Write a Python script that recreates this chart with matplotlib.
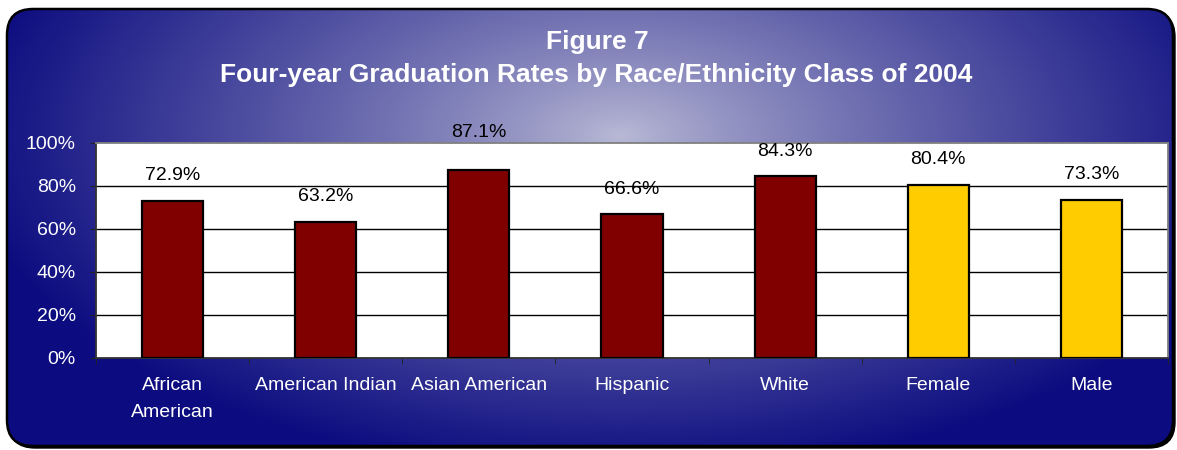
import numpy as np
import matplotlib.pyplot as plt
from matplotlib.patches import FancyBboxPatch

plt.rcParams['font.family'] = ['Liberation Sans', 'DejaVu Sans']

categories = ['African\nAmerican', 'American Indian', 'Asian American',
              'Hispanic', 'White', 'Female', 'Male']
rates = [72.9, 63.2, 87.1, 66.6, 84.3, 80.4, 73.3]
bar_colors = ['#800000'] * 5 + ['#FFCC00'] * 2
yticks = [0, 20, 40, 60, 80, 100]

W, H = 1177, 450
fig = plt.figure(figsize=(W / 100, H / 100), dpi=100)
fig.patch.set_facecolor('white')

# background panel with radial gradient
bg = fig.add_axes([0, 0, 1, 1])
bg.set_xlim(0, W)
bg.set_ylim(H, 0)
bg.axis('off')

yy, xx = np.mgrid[0:H, 0:W]
cx, cy, rx, ry = 620, 135, 660, 340
r = np.sqrt(((xx - cx) / rx) ** 2 + ((yy - cy) / ry) ** 2)
t = np.clip(r, 0, 1) ** 0.85
center = np.array([186, 186, 214]) / 255
edge = np.array([12, 12, 128]) / 255
img = center[None, None, :] * (1 - t[..., None]) + edge[None, None, :] * t[..., None]

shadow = FancyBboxPatch((9, 11), 1166, 437, boxstyle='round,pad=0,rounding_size=26',
                        fc='black', ec='black', lw=1)
bg.add_patch(shadow)
box = FancyBboxPatch((7, 9), 1166, 437, boxstyle='round,pad=0,rounding_size=26',
                     fc='none', ec='black', lw=1.8, zorder=3)
bg.add_patch(box)
im = bg.imshow(img, extent=(0, W, H, 0), zorder=2, aspect='auto')
im.set_clip_path(box)

fig.text(597 / W, 1 - 42 / H, 'Figure 7', color='white', fontsize=19,
         fontweight='bold', ha='center', va='center')
fig.text(596 / W, 1 - 75 / H, 'Four-year Graduation Rates by Race/Ethnicity Class of 2004',
         color='white', fontsize=19, fontweight='bold', ha='center', va='center')

# plot area
left, right, top, bottom = 96, 1168, 142.5, 357.5
ax = fig.add_axes([left / W, 1 - bottom / H, (right - left) / W, (bottom - top) / H])
ax.set_facecolor('white')
x = np.arange(len(categories))
ax.bar(x, rates, width=0.4, color=bar_colors, edgecolor='black', linewidth=1.6, zorder=3)
ax.set_xlim(-0.5, len(categories) - 0.5)
ax.set_ylim(0, 100)
ax.set_yticks(yticks)
ax.set_yticklabels([f'{v}%' for v in yticks])
for v in yticks[1:-1]:
    ax.axhline(v, color='black', lw=1, zorder=1)

ax.set_xticks(x)
ax.set_xticklabels(categories, linespacing=1.8)
ax.set_xticks(np.arange(-0.5, len(categories)), minor=True)
ax.tick_params(axis='x', which='major', length=0, pad=14, labelsize=14, labelcolor='white')
ax.tick_params(axis='x', which='minor', length=4.5, direction='out', color='#222222')
ax.tick_params(axis='y', length=4.5, direction='out', pad=10, labelsize=14,
               labelcolor='white', color='#222222')

ax.spines['left'].set_color('#333333')
ax.spines['bottom'].set_color('#333333')
ax.spines['top'].set_color('#808080')
ax.spines['right'].set_color('#808080')
for s in ax.spines.values():
    s.set_linewidth(1.3)

# data labels (the tallest one sits a bit higher, clear of the frame)
for i, v in enumerate(rates):
    off = 25 if v < 85 else 38
    ax.annotate(f'{v:.1f}%', (i, v), xytext=(0, off * 0.72), textcoords='offset points',
                ha='center', va='center', fontsize=14, color='black',
                annotation_clip=False, zorder=5)

fig.savefig('out.png', dpi=100, facecolor='white')
